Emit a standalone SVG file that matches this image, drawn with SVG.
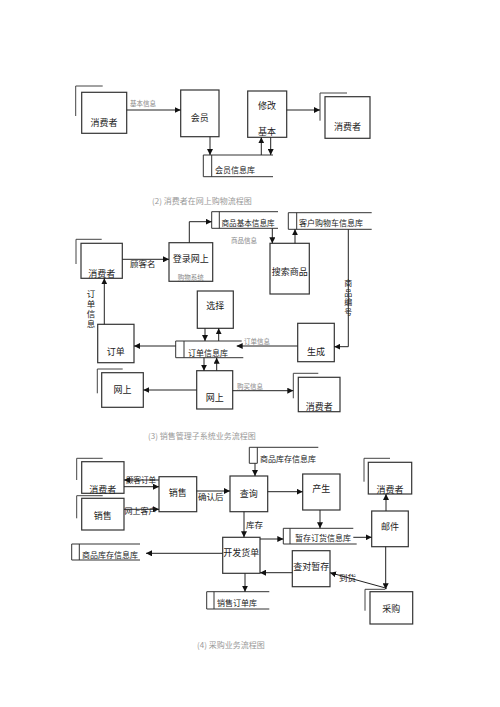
<svg xmlns="http://www.w3.org/2000/svg" width="500" height="707" viewBox="0 0 500 707">
<style>
.bx{fill:#fff;stroke:#333;stroke-width:1.2}
.sh{fill:none;stroke:#444;stroke-width:1}
.db{fill:none;stroke:#333;stroke-width:1}
.ln{fill:none;stroke:#222;stroke-width:1;marker-end:url(#ah)}
text{font-family:"Noto Sans CJK SC","Liberation Serif",sans-serif;font-size:9px;fill:#222}
.c{text-anchor:middle}
.sm{font-size:6.5px;fill:#888}
.cap{font-size:8px;fill:#999}
.lb{font-size:8.5px}
.st{font-size:8px}
.vt{writing-mode:vertical-rl;text-orientation:upright;font-size:8px;letter-spacing:1.5px}
</style>
<defs>
<marker id="ah" markerWidth="6" markerHeight="6" refX="6" refY="3" orient="auto" markerUnits="userSpaceOnUse">
<path d="M0,0 L6,3 L0,6 z" fill="#111"/>
</marker>
</defs>
<rect width="500" height="707" fill="#fff"/>

<!-- Top section -->
<g id="c1"><path class="sh" d="M75.7,116 V86 H102.7"/><rect class="bx" x="81.7" y="92.3" width="45" height="41"/><text class="c" x="104" y="126">消费者</text></g>
<g id="huiyuan"><rect class="bx" x="180.7" y="90" width="38.3" height="46.7"/><text class="c" x="199.8" y="121">会员</text></g>
<g id="xiugai"><rect class="bx" x="247.7" y="91" width="39" height="46.3"/><text class="c" x="267" y="109">修改</text><text class="c" x="267" y="135">基本</text></g>
<g id="c2"><path class="sh" d="M320,120.7 V93 H347"/><rect class="bx" x="325" y="96.7" width="45" height="41.6"/><text class="c" x="347.5" y="130">消费者</text></g>
<g id="db1"><path class="db" d="M273,155 H203.3 V176.7 H273 M211.7,155 V176.7"/><text class="st" x="215" y="173">会员信息库</text></g>

<!-- Middle section -->
<text class="cap" x="152" y="204">(2) 消费者在网上购物流程图</text>
<g id="db2"><path class="db" d="M278,211.7 H211.7 V228.3 H278 M219.3,211.7 V228.3"/><text class="st" x="221.5" y="225.5" style="font-size:7.6px">商品基本信息库</text></g>
<g id="db3"><path class="db" d="M371.7,212.7 H288.3 V229.3 H371.7 M296.7,212.7 V229.3"/><text class="st" x="299" y="226">客户购物车信息库</text></g>
<g id="c3"><path class="sh" d="M76,264 V239.3 H101.7"/><rect class="bx" x="81" y="243.3" width="41.3" height="35"/><text class="c" x="101.7" y="277">消费者</text></g>
<g id="login"><rect class="bx" x="169" y="242.7" width="43.7" height="38.6"/><text class="c" x="190.8" y="262">登录网上</text><text class="c sm" x="190.8" y="280">购物系统</text></g>
<g id="search"><rect class="bx" x="270" y="243.3" width="39.3" height="50.7"/><text class="c" x="289.7" y="275">搜索商品</text></g>
<g id="select"><rect class="bx" x="197.3" y="291" width="36" height="37.3"/><text class="c" x="215.3" y="309">选择</text></g>
<g id="db4"><path class="db" d="M241.7,341 H175.7 V357.7 H243.3 M184,341 V357.7"/><text class="st" x="188" y="356">订单信息库</text></g>
<g id="order"><rect class="bx" x="97.7" y="324.3" width="36.3" height="38.4"/><text class="c" x="115.8" y="355">订单</text></g>
<g id="gen"><rect class="bx" x="297.7" y="323.3" width="36.6" height="38.4"/><text class="c" x="316" y="355">生成</text></g>
<g id="wang_c"><rect class="bx" x="196.7" y="370.7" width="36" height="38.3"/><text class="c" x="214.7" y="401">网上</text></g>
<g id="wang_l"><path class="sh" d="M97.3,393.3 V369 H122.7"/><rect class="bx" x="101.7" y="372.7" width="41.6" height="34.6"/><text class="c" x="122.5" y="393">网上</text></g>
<g id="c4"><path class="sh" d="M293.3,398.3 V373.3 H318.3"/><rect class="bx" x="298.3" y="377.3" width="41.7" height="34.4"/><text class="c" x="319.2" y="410">消费者</text></g>

<!-- Bottom section -->
<text class="cap" x="148" y="439">(3) 销售管理子系统业务流程图</text>
<g id="db5"><path class="db" d="M318.3,447.3 H249.3 V463.3 H257.3 V447.3"/><text class="st" x="260" y="462">商品库存信息库</text></g>
<g id="query"><rect class="bx" x="230" y="476" width="37.7" height="35.7"/><text class="c" x="248.8" y="497">查询</text></g>
<g id="produce"><rect class="bx" x="302.7" y="474" width="37.3" height="36"/><text class="c" x="321.3" y="492">产生</text></g>
<g id="db6"><path class="db" d="M353.3,528.3 H283.3 V544 H356.7 M290,528.3 V544"/><text class="st" x="295" y="541">暂存订货信息库</text></g>
<g id="mail"><rect class="bx" x="371.7" y="511" width="36.6" height="35.7"/><text class="c" x="390" y="530">邮件</text></g>
<g id="c5"><path class="sh" d="M364,481.7 V458.3 H390"/><rect class="bx" x="368.3" y="462.3" width="43.4" height="31.7"/><text class="c" x="390" y="493">消费者</text></g>
<g id="c6"><path class="sh" d="M76.7,480 V458.3 H102.7"/><rect class="bx" x="81.7" y="461.7" width="42.3" height="31.6"/><text class="c" x="102.8" y="493">消费者</text></g>
<g id="sales_l"><path class="sh" d="M76.7,518.3 V495.7 H102.7"/><rect class="bx" x="81.7" y="498.3" width="42.3" height="31.7"/><text class="c" x="102.8" y="519">销售</text></g>
<g id="sales"><rect class="bx" x="159" y="476.7" width="37.7" height="35"/><text class="c" x="177.8" y="496">销售</text></g>
<g id="ship"><rect class="bx" x="222.7" y="537.3" width="37.3" height="36"/><text class="c" x="241.3" y="556">开发货单</text></g>
<g id="db7"><path class="db" d="M140,544 H71.7 V560 H140 M79.3,544 V560"/><text class="st" x="82" y="558">商品库存信息库</text></g>
<g id="check"><rect class="bx" x="292.3" y="550.7" width="37.7" height="36"/><text class="c" x="311.2" y="570">查对暂存</text></g>
<g id="db8"><path class="db" d="M269.3,591.7 H206.7 V609 H269.3 M214,591.7 V609"/><text class="st" x="217" y="606">销售订单库</text></g>
<g id="purchase"><path class="sh" d="M365,610.7 V589.3 H385"/><rect class="bx" x="370" y="591.7" width="42.7" height="32.3"/><text class="c" x="391.3" y="612">采购</text></g>
<text class="cap" x="197" y="648">(4) 采购业务流程图</text>

<g id="connectors">
<line class="ln" x1="126.7" y1="110" x2="180.7" y2="110"/>
<text class="sm" x="130" y="106">基本信息</text>
<line class="ln" x1="210" y1="136.7" x2="210" y2="155"/>
<line class="ln" x1="261.3" y1="155" x2="261.3" y2="137.3"/>
<line class="ln" x1="270.7" y1="137.3" x2="270.7" y2="155"/>
<line class="ln" x1="286.7" y1="110" x2="320" y2="110"/>

<line class="ln" x1="122.3" y1="259.3" x2="169" y2="259.3"/>
<text class="lb" x="130" y="267">顾客名</text>
<path class="ln" d="M189.3,242.7 V221.7 H211.7"/>
<line class="ln" x1="272.3" y1="228.3" x2="272.3" y2="243.3"/>
<line class="ln" x1="295" y1="243.3" x2="295" y2="229.3"/>
<text class="sm" x="231" y="243">商品信息</text>
<path class="ln" d="M348.3,229.3 V346.7 H334.3"/>
<text class="vt" x="348.3" y="279">商品编号</text>
<line class="ln" x1="104.3" y1="324.3" x2="104.3" y2="278.3"/>
<text class="vt" x="91" y="290" style="font-size:8.5px">订单信息</text>
<line class="ln" x1="175.7" y1="346" x2="134" y2="346"/>
<line class="ln" x1="205" y1="328.3" x2="205" y2="341"/>
<line class="ln" x1="218.7" y1="341" x2="218.7" y2="328.3"/>
<line class="ln" x1="297.7" y1="346" x2="236.7" y2="346"/>
<text class="sm" x="244" y="344">订单信息</text>
<line class="ln" x1="204" y1="357.7" x2="204" y2="370.7"/>
<line class="ln" x1="216.7" y1="370.7" x2="216.7" y2="357.7"/>
<line class="ln" x1="196.7" y1="390" x2="143.3" y2="390"/>
<line class="ln" x1="232.7" y1="390.7" x2="293.3" y2="390.7"/>
<text class="sm" x="237" y="389">购买信息</text>

<line class="ln" x1="255" y1="463.3" x2="255" y2="476"/>
<line class="ln" x1="267.7" y1="491.7" x2="302.7" y2="491.7"/>
<line class="ln" x1="320" y1="510" x2="320" y2="528.3"/>
<line class="ln" x1="353.3" y1="537.3" x2="371.7" y2="537.3"/>
<line class="ln" x1="386" y1="511" x2="386" y2="494"/>
<line class="ln" x1="385.7" y1="546.7" x2="385.7" y2="589.3"/>
<line class="ln" x1="159" y1="480" x2="124" y2="480"/>
<text class="lb" x="126" y="483" style="font-size:7.5px">顾客订单</text>
<line class="ln" x1="124" y1="486.7" x2="159" y2="486.7"/>
<line class="ln" x1="124" y1="509.3" x2="159" y2="509.3"/>
<text class="lb" x="124.5" y="514" style="font-size:8px">网上客户</text>
<line class="ln" x1="196.7" y1="491" x2="230" y2="491"/>
<text class="lb" x="198" y="500">确认后</text>
<line class="ln" x1="244" y1="511.7" x2="244" y2="537.3"/>
<text class="lb" x="246" y="528">库存</text>
<line class="ln" x1="260" y1="539" x2="283.3" y2="539"/>
<line class="ln" x1="222.7" y1="553.3" x2="146" y2="553.3"/>
<line class="ln" x1="292.3" y1="572.7" x2="260" y2="572.7"/>
<line class="ln" x1="386.7" y1="588.3" x2="330" y2="572.7"/>
<text class="lb" x="339" y="581">到货</text>
<line class="ln" x1="245" y1="573.3" x2="245" y2="591.7"/>
</g>
</svg>
